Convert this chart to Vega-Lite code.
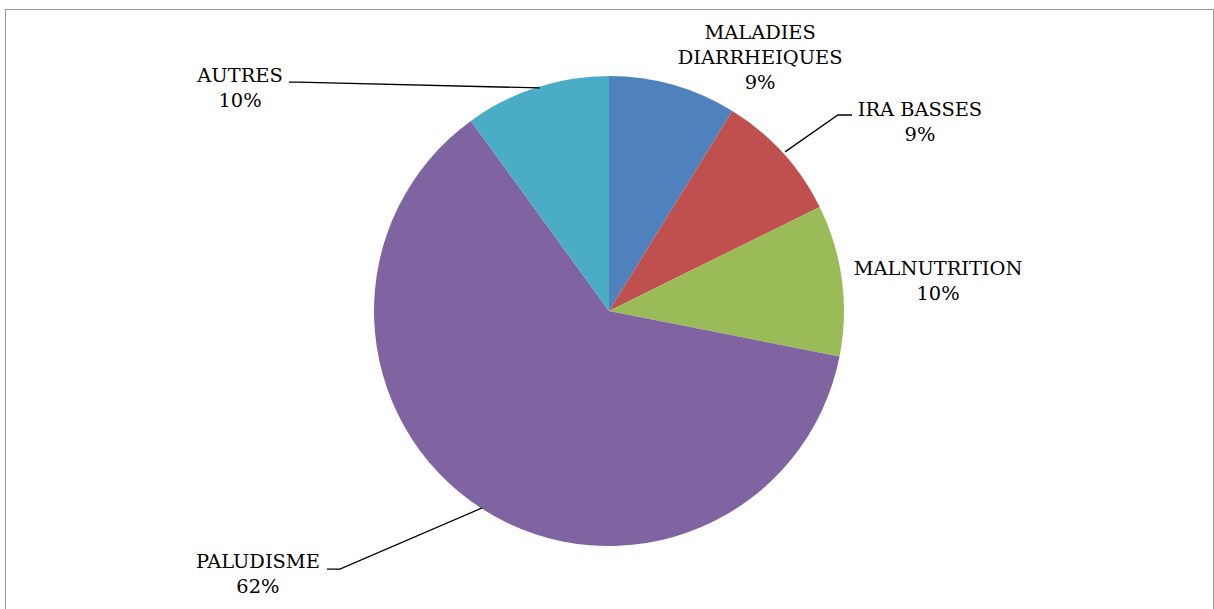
{
  "$schema": "https://vega.github.io/schema/vega-lite/v6.json",
  "autosize": "none",
  "width": 1208,
  "height": 604,
  "padding": {"left": 5, "top": 9, "right": 1, "bottom": 0},
  "background": "white",
  "config": {"view": {"stroke": "#999999", "strokeWidth": 1}},
  "datasets": {
    "slices": [
      {"category": "MALADIES DIARRHEIQUES", "value": 8.8, "order": 1},
      {"category": "IRA BASSES", "value": 8.9, "order": 2},
      {"category": "MALNUTRITION", "value": 10.4, "order": 3},
      {"category": "PALUDISME", "value": 61.9, "order": 4},
      {"category": "AUTRES", "value": 10.0, "order": 5}
    ],
    "labels": [
      {"category": "MALADIES DIARRHEIQUES", "label": "MALADIES\nDIARRHEIQUES\n9%", "lx": 0.643, "ly": 1.181},
      {"category": "IRA BASSES", "label": "IRA BASSES\n9%", "lx": 1.323, "ly": 0.857},
      {"category": "MALNUTRITION", "label": "MALNUTRITION\n10%", "lx": 1.4, "ly": 0.177},
      {"category": "PALUDISME", "label": "PALUDISME\n62%", "lx": -1.494, "ly": -1.07},
      {"category": "AUTRES", "label": "AUTRES\n10%", "lx": -1.57, "ly": 0.998}
    ],
    "leaders": [
      {"id": "AUTRES", "seq": 1, "lx": -1.362, "ly": 0.974},
      {"id": "AUTRES", "seq": 2, "lx": -1.323, "ly": 0.974},
      {"id": "AUTRES", "seq": 3, "lx": -0.294, "ly": 0.949},
      {"id": "IRA BASSES", "seq": 1, "lx": 1.034, "ly": 0.834},
      {"id": "IRA BASSES", "seq": 2, "lx": 0.974, "ly": 0.834},
      {"id": "IRA BASSES", "seq": 3, "lx": 0.749, "ly": 0.677},
      {"id": "PALUDISME", "seq": 1, "lx": -1.2, "ly": -1.098},
      {"id": "PALUDISME", "seq": 2, "lx": -1.145, "ly": -1.098},
      {"id": "PALUDISME", "seq": 3, "lx": -0.54, "ly": -0.838}
    ]
  },
  "layer": [
    {
      "data": {"name": "slices"},
      "mark": {"type": "arc", "outerRadius": 235},
      "encoding": {
        "theta": {"field": "value", "type": "quantitative", "stack": true},
        "order": {"field": "order", "type": "quantitative"},
        "color": {
          "field": "category",
          "type": "nominal",
          "sort": ["MALADIES DIARRHEIQUES", "IRA BASSES", "MALNUTRITION", "PALUDISME", "AUTRES"],
          "scale": {
            "domain": ["MALADIES DIARRHEIQUES", "IRA BASSES", "MALNUTRITION", "PALUDISME", "AUTRES"],
            "range": ["#4F81BD", "#C0504D", "#9BBB59", "#8064A2", "#4BACC6"]
          },
          "legend": null
        }
      }
    },
    {
      "data": {"name": "leaders"},
      "mark": {"type": "line", "color": "black", "strokeWidth": 1.3},
      "encoding": {
        "x": {"field": "lx", "type": "quantitative", "scale": {"domain": [-2.57, 2.57], "nice": false, "zero": false}, "axis": null},
        "y": {"field": "ly", "type": "quantitative", "scale": {"domain": [-1.285, 1.285], "nice": false, "zero": false}, "axis": null},
        "detail": {"field": "id", "type": "nominal"},
        "order": {"field": "seq", "type": "quantitative"}
      }
    },
    {
      "data": {"name": "labels"},
      "mark": {"type": "text", "font": "DejaVu Serif", "fontSize": 19.4, "lineHeight": 25, "lineBreak": "\n", "align": "center", "baseline": "middle", "color": "black"},
      "encoding": {
        "x": {"field": "lx", "type": "quantitative", "scale": {"domain": [-2.57, 2.57], "nice": false, "zero": false}, "axis": null},
        "y": {"field": "ly", "type": "quantitative", "scale": {"domain": [-1.285, 1.285], "nice": false, "zero": false}, "axis": null},
        "text": {"field": "label", "type": "nominal"}
      }
    }
  ]
}
